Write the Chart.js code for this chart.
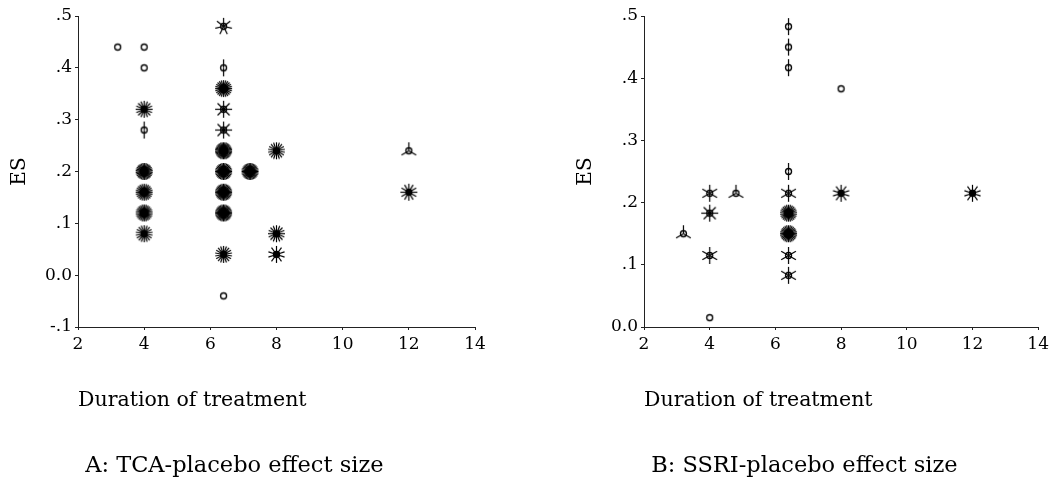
<!DOCTYPE html>
<html>
<head>
<meta charset="utf-8">
<script src="https://cdn.jsdelivr.net/npm/chart.js@4.4.0/dist/chart.umd.min.js"></script>
<style>
  body { margin: 0; background: #ffffff; }
  #wrap { position: relative; width: 1053px; height: 480px; }
  #chartA { position: absolute; left: 0; top: 0; }
  #chartB { position: absolute; left: 520px; top: 0; }
</style>
</head>
<body>
<div id="wrap">
  <canvas id="chartA" width="520" height="480"></canvas>
  <canvas id="chartB" width="533" height="480"></canvas>
</div>
<script>
//TCA-placebo data (weeks, effect size, number of petals)
var tcaWeeks = [3.2, 4, 4, 4, 4, 4, 4, 4, 4, 6.4, 6.4, 6.4, 6.4, 6.4, 6.4, 6.4, 6.4, 6.4, 6.4, 6.4, 7.2, 8, 8, 8, 12, 12];
var tcaES = [0.44, 0.44, 0.40, 0.32, 0.28, 0.20, 0.16, 0.12, 0.08, 0.48, 0.40, 0.36, 0.32, 0.28, 0.24, 0.20, 0.16, 0.12, 0.04, -0.04, 0.20, 0.24, 0.08, 0.04, 0.24, 0.16];
var tcaPetals = [1, 1, 1, 16, 2, 30, 24, 26, 18, 7, 2, 24, 8, 8, 34, 32, 32, 32, 18, 1, 32, 18, 16, 10, 3, 12];

//SSRI-placebo data
var ssriWeeks = [3.2, 4, 4, 4, 4, 4.8, 6.4, 6.4, 6.4, 6.4, 6.4, 6.4, 6.4, 6.4, 6.4, 8, 8, 12];
var ssriES = [0.15, 0.215, 0.183, 0.115, 0.015, 0.215, 0.483, 0.45, 0.417, 0.25, 0.215, 0.183, 0.15, 0.115, 0.083, 0.383, 0.215, 0.215];
var ssriPetals = [3, 6, 8, 6, 1, 3, 2, 2, 2, 2, 6, 26, 28, 6, 6, 1, 10, 10];

//axis ticks
var xTicks = [2, 4, 6, 8, 10, 12, 14];
var tcaYRange = [-0.1, 0.5];
var ssriYRange = [0, 0.5];

var serif = "'DejaVu Serif', serif";
var glyphs = {};

//build a sunflower glyph with n petals
function sunflower(n) {
  if (glyphs[n]) return glyphs[n];
  var c = document.createElement("canvas");
  c.width = 21;
  c.height = 21;
  var g = c.getContext("2d");
  g.strokeStyle = "#000";
  g.lineWidth = 1.2;
  if (n > 1) {
    for (var i = 0; i < n; i++) {
      var a = -Math.PI / 2 + (i * 2 * Math.PI) / n;
      g.beginPath();
      g.moveTo(10.5, 10.5);
      g.lineTo(10.5 + 8.5 * Math.cos(a), 10.5 + 8.5 * Math.sin(a));
      g.stroke();
    }
  }
  //dense flowers get a solid centre
  if (n >= 10) {
    g.fillStyle = "#000";
    g.beginPath();
    g.arc(10.5, 10.5, n >= 20 ? 5 : 3.5, 0, 2 * Math.PI);
    g.fill();
  }
  g.lineWidth = 1.3;
  g.beginPath();
  g.arc(10.5, 10.5, 3, 0, 2 * Math.PI);
  g.stroke();
  glyphs[n] = c;
  return c;
}

function fmtY(v) {
  if (Math.abs(v) < 1e-9) return "0.0";
  return v.toFixed(1).replace("0.", ".");
}

//Launch one sunflower plot
function launchPlot(id, weeks, es, petals, yRange, title, padLeft, padRight) {
  var pts = weeks.map(function (w, i) {
    return { x: w, y: es[i] };
  });

  new Chart(document.getElementById(id), {
    type: "scatter",
    data: {
      datasets: [
        {
          data: pts,
          pointStyle: function (ctx) {
            return sunflower(petals[ctx.dataIndex]);
          },
          pointRadius: 8,
          pointHoverRadius: 8,
          showLine: false,
        },
      ],
    },
    options: {
      responsive: false,
      animation: false,
      layout: { padding: { left: padLeft, right: padRight, top: 16, bottom: 0 } },
      plugins: {
        legend: { display: false },
        tooltip: { enabled: false },
        title: {
          display: true,
          text: " " + title,
          position: "bottom",
          align: "start",
          fullSize: false,
          color: "#000",
          font: { family: serif, size: 22.5, weight: "normal" },
          padding: { top: 0, bottom: 0 },
        },
      },
      scales: {
        x: {
          type: "linear",
          min: 2,
          max: 14,
          afterBuildTicks: function (s) {
            s.ticks = xTicks.map(function (v) {
              return { value: v };
            });
          },
          afterFit: function (s) {
            s.height = 126;
          },
          ticks: { color: "#000", padding: 4, font: { family: serif, size: 17 } },
          grid: { drawOnChartArea: false, drawTicks: true, tickLength: 3, color: "#222" },
          border: { display: true, color: "#222", width: 1 },
          title: {
            display: true,
            text: "Duration of treatment",
            align: "start",
            color: "#000",
            font: { family: serif, size: 20.5 },
            padding: { top: 0, bottom: 40 },
          },
        },
        y: {
          type: "linear",
          min: yRange[0],
          max: yRange[1],
          afterFit: function (s) {
            s.width = 78;
          },
          ticks: {
            stepSize: 0.1,
            color: "#000",
            padding: 3,
            font: { family: serif, size: 17 },
            callback: function (v) {
              return fmtY(v);
            },
          },
          grid: { drawOnChartArea: false, drawTicks: true, tickLength: 3, color: "#222" },
          border: { display: true, color: "#222", width: 1 },
          title: {
            display: true,
            text: "ES",
            color: "#000",
            font: { family: serif, size: 20 },
            padding: { top: 8, bottom: 0 },
          },
        },
      },
    },
  });
}

launchPlot("chartA", tcaWeeks, tcaES, tcaPetals, tcaYRange, "A: TCA-placebo effect size", 0, 45);
launchPlot("chartB", ssriWeeks, ssriES, ssriPetals, ssriYRange, "B: SSRI-placebo effect size", 46, 13);
</script>
</body>
</html>
